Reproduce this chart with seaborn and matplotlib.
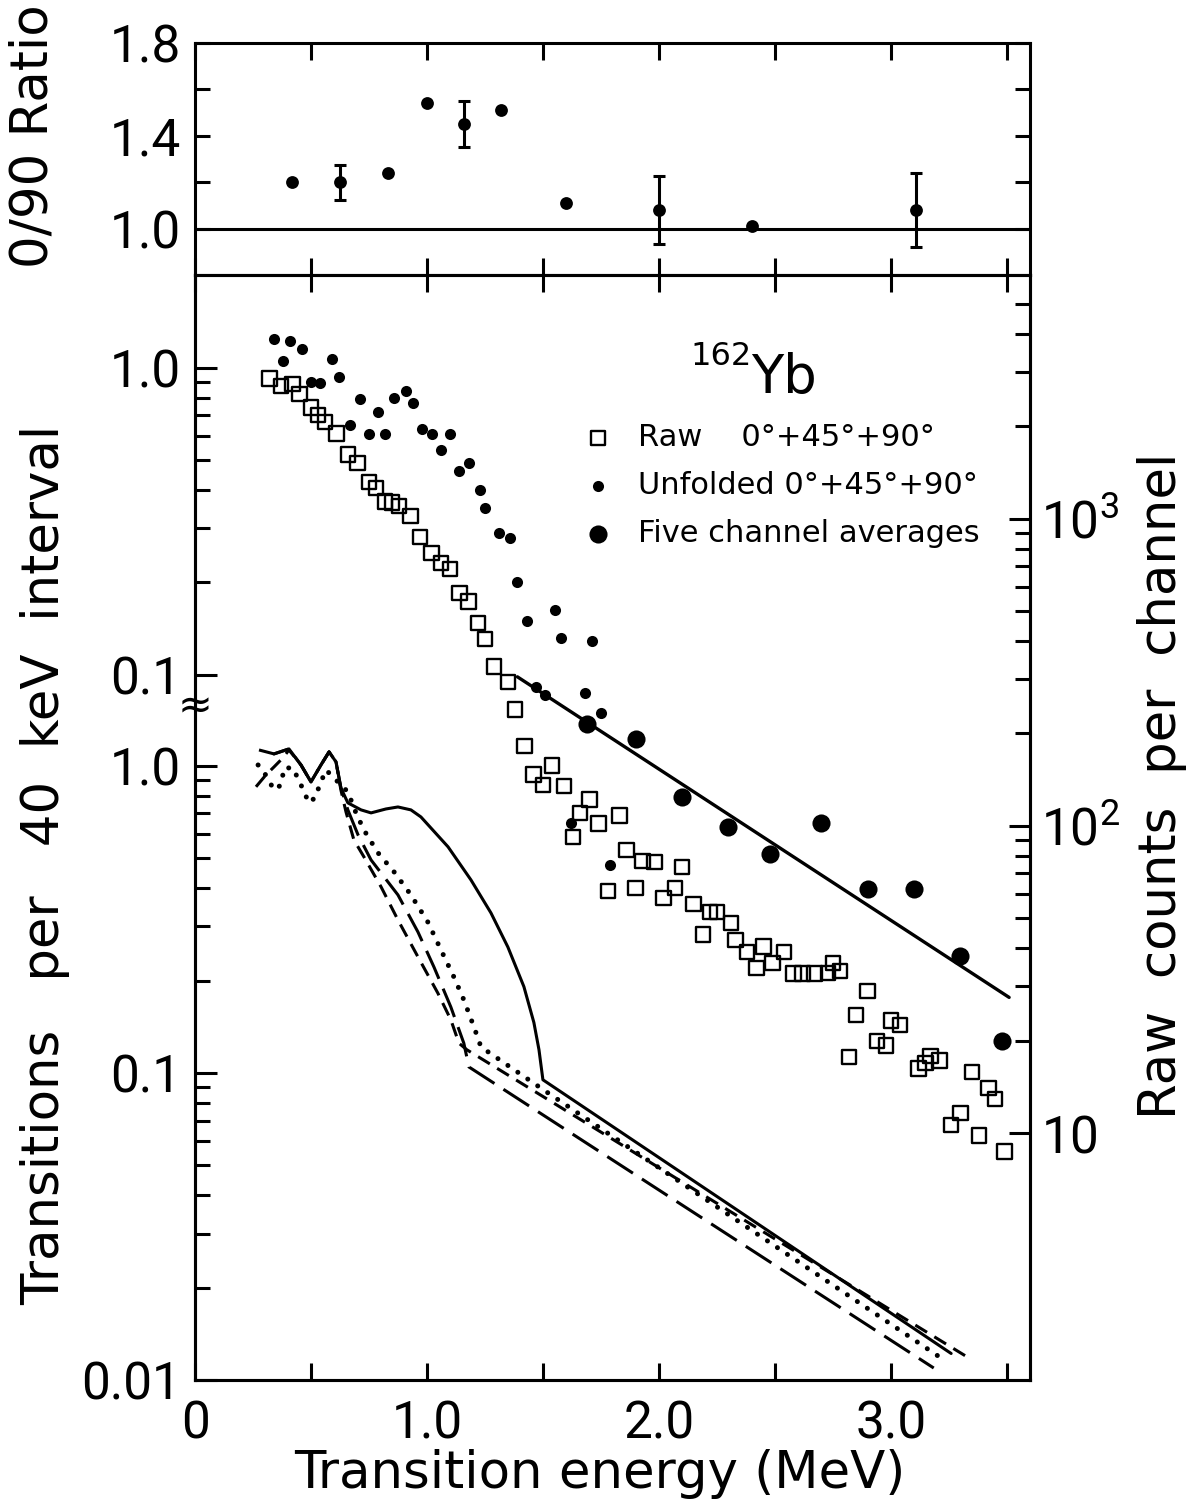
import numpy as np
import matplotlib
matplotlib.use("Agg")
import matplotlib.pyplot as plt
import seaborn as sns
from matplotlib.ticker import NullFormatter
import matplotlib.transforms as mtransforms

# ---------------- data ----------------
# top panel: 0/90 ratio
ratio_E = [0.42, 0.625, 0.83, 1.00, 1.16, 1.32, 1.60, 2.00, 2.40, 3.11]
ratio_val = [1.20, 1.20, 1.24, 1.54, 1.45, 1.51, 1.11, 1.08, 1.01, 1.08]
ratio_err = [0, 0.075, 0, 0, 0.10, 0, 0, 0.145, 0, 0.16]

# raw counts per channel (right axis)
raw_E = [0.32, 0.37, 0.42, 0.45, 0.50, 0.53, 0.56, 0.61, 0.66, 0.70,
         0.75, 0.78, 0.82, 0.85, 0.88, 0.93, 0.97, 1.02, 1.06, 1.10,
         1.14, 1.18, 1.22, 1.25, 1.29, 1.35, 1.38, 1.42, 1.46, 1.50,
         1.54, 1.59, 1.70, 1.66, 1.74, 1.63, 1.83, 1.86, 1.93, 1.98,
         2.10, 1.78, 1.90, 2.02, 2.07, 2.15, 2.22, 2.25, 2.31, 2.19,
         2.33, 2.38, 2.45, 2.49, 2.42, 2.54, 2.58, 2.62, 2.67, 2.73,
         2.75, 2.78, 2.90, 2.85, 2.82, 3.00, 3.04, 2.94, 2.98, 3.17,
         3.21, 3.15, 3.12, 3.35, 3.42, 3.45, 3.30, 3.26, 3.38, 3.49]
raw_counts = [2860, 2710, 2750, 2550, 2300, 2180, 2070, 1900, 1620, 1520,
              1320, 1260, 1140, 1130, 1100, 1020, 874, 775, 719, 687,
              574, 537, 458, 406, 330, 294, 239, 182, 147, 136,
              157, 135, 122, 110, 102, 92, 108, 83.5, 76.9, 76.3,
              73.5, 61.4, 62.8, 58.3, 62.8, 55.7, 52.5, 52.5, 48.3, 44.2,
              42.5, 38.9, 40.4, 35.8, 34.5, 38.9, 33.0, 33.0, 33.0, 33.2,
              35.8, 33.7, 29.0, 24.2, 17.7, 23.2, 22.5, 19.9, 19.3, 17.8,
              17.2, 16.9, 16.2, 15.8, 14.0, 12.9, 11.6, 10.6, 9.8, 8.7]

# unfolded spectrum (upper left scale)
unf_E = [0.34, 0.41, 0.38, 0.46, 0.59, 0.50, 0.54, 0.62, 0.71, 0.79,
         0.86, 0.91, 0.94, 0.67, 0.75, 0.82, 0.98, 1.02, 1.10, 1.06,
         1.14, 1.18, 1.23, 1.25, 1.31, 1.36, 1.39, 1.43, 1.55, 1.58,
         1.71, 1.47, 1.51, 1.68, 1.75, 1.62, 1.79]
unf_val = [1.24, 1.22, 1.05, 1.15, 1.07, 0.90, 0.89, 0.93, 0.79, 0.72,
           0.80, 0.84, 0.77, 0.65, 0.61, 0.61, 0.63, 0.61, 0.61, 0.54,
           0.46, 0.49, 0.40, 0.35, 0.29, 0.28, 0.20, 0.150, 0.163, 0.132,
           0.129, 0.091, 0.086, 0.087, 0.075, 0.033, 0.024]

# five channel averages (upper left scale)
avg_E = [1.69, 1.90, 2.10, 2.30, 2.48, 2.70, 2.90, 3.10, 3.30, 3.48]
avg_val = [0.069, 0.062, 0.040, 0.032, 0.026, 0.033, 0.020, 0.020, 0.0121, 0.0064]

# exponential fit line (upper left scale)
fit_E = [1.39, 3.51]
fit_val = [0.0985, 0.0089]

# calculated spectra (lower left scale)
solid_E = [0.34, 0.405, 0.457, 0.50, 0.543, 0.578, 0.608, 0.629, 0.659, 0.716,
           0.759, 0.823, 0.875, 0.931, 0.974, 1.091, 1.19, 1.276, 1.349, 1.418,
           1.461, 1.483, 1.50, 3.26]
solid_v = [1.094, 1.136, 1.007, 0.887, 1.007, 1.111, 1.030, 0.848, 0.758, 0.719,
           0.703, 0.724, 0.735, 0.719, 0.682, 0.545, 0.425, 0.332, 0.257, 0.191,
           0.146, 0.119, 0.095, 0.0122]

longdash_E = [0.276, 0.341, 0.405, 0.457, 0.50, 0.543, 0.578, 0.608, 0.629, 0.659,
              0.703, 0.759, 0.875, 0.961, 1.03, 1.103, 1.159, 1.181, 3.185]
longdash_v = [1.127, 1.094, 1.136, 1.007, 0.887, 1.007, 1.111, 1.030, 0.848, 0.719,
              0.596, 0.494, 0.380, 0.288, 0.2215, 0.164, 0.125, 0.1046, 0.01094]

shortdash_E = [0.263, 0.306, 0.341, 0.379, 0.405, 0.457, 0.50, 0.543, 0.578, 0.608,
               0.629, 0.651, 0.685, 0.728, 0.802, 0.875, 0.961, 1.047, 1.103, 1.138,
               1.172, 3.336]
shortdash_v = [0.855, 0.935, 0.993, 1.062, 1.127, 1.007, 0.887, 1.007, 1.111, 1.030,
               0.835, 0.708, 0.574, 0.506, 0.404, 0.315, 0.239, 0.182, 0.149, 0.125,
               0.119, 0.0118]

dotted_E = [0.272, 0.297, 0.341, 0.371, 0.384, 0.422, 0.457, 0.491, 0.522, 0.534,
            0.565, 0.616, 0.659, 0.694, 0.728, 0.789, 0.858, 0.931, 1.004, 1.06,
            1.116, 1.159, 1.203, 1.233, 1.491, 3.216]
dotted_v = [1.007, 0.956, 0.835, 0.867, 0.985, 0.985, 0.867, 0.758, 0.793, 0.855,
            0.970, 0.887, 0.823, 0.703, 0.619, 0.521, 0.452, 0.380, 0.310, 0.252,
            0.2055, 0.173, 0.141, 0.1215, 0.0893, 0.0118]

x_ticks = [0, 0.5, 1.0, 1.5, 2.0, 2.5, 3.0, 3.5]
x_ticklabels = ["0", "", "1.0", "", "2.0", "", "3.0", ""]
ratio_ticks = [1.0, 1.2, 1.4, 1.6, 1.8]
ratio_ticklabels = ["1.0", "", "1.4", "", "1.8"]
raw_ticks = [10, 100, 1000]
raw_ticklabels = [r"$\mathregular{10}$", r"$\mathregular{10^2}$", r"$\mathregular{10^3}$"]

# axis scale relations of the broken / twin axes
S_UP = 19.8      # upper-left section 1.0 sits at 19.8 lower-left units
RAW = 156.8      # raw counts per lower-left unit

# ---------------- style ----------------
sns.set_theme(style="white")
plt.rcParams["font.family"] = ["Roboto", "DejaVu Sans"]
plt.rcParams.update({
    "text.color": "black", "axes.labelcolor": "black",
    "xtick.color": "black", "ytick.color": "black",
    "axes.edgecolor": "black", "axes.linewidth": 2.2,
    "mathtext.fontset": "custom", "mathtext.rm": "Roboto",
    "mathtext.it": "Roboto:italic", "mathtext.bf": "Roboto:bold",
})
K = "black"
FS = 37
LBL = dict(fontsize=37, family=["DejaVu Sans"])

fig = plt.figure(figsize=(11.89, 15.08), dpi=100)
L, R = 195 / 1189, 1030 / 1189
ax_top = fig.add_axes([L, 1 - 275 / 1508, R - L, (275 - 43) / 1508])
ax = fig.add_axes([L, 1 - 1380 / 1508, R - L, (1380 - 275) / 1508])

# ---------------- top panel ----------------
ax_top.axhline(1.0, color=K, lw=2.2)
sns.scatterplot(x=ratio_E, y=ratio_val, ax=ax_top, color=K, s=85, linewidth=0, zorder=3)
e_idx = [i for i, e in enumerate(ratio_err) if e > 0]
ax_top.errorbar([ratio_E[i] for i in e_idx], [ratio_val[i] for i in e_idx],
                yerr=[ratio_err[i] for i in e_idx], fmt="none", ecolor=K,
                elinewidth=2.2, capsize=4.5, capthick=2.2)
ax_top.set_xlim(0, 3.6)
ax_top.set_ylim(0.8, 1.8)
ax_top.set_xticks(x_ticks)
ax_top.set_xticklabels([])
ax_top.set_yticks(ratio_ticks, labels=ratio_ticklabels)
ax_top.tick_params(axis="x", which="both", direction="in", top=True, bottom=True,
                   length=12, width=2.2)
ax_top.tick_params(axis="y", which="both", direction="in", left=True, right=True,
                   length=11, width=2.2, labelsize=FS, pad=10)
ax_top.set_ylabel("0/90 Ratio", **LBL)
ax_top.yaxis.set_label_coords(-0.163, 0.60)

# ---------------- main panel ----------------
ax.set_yscale("log")
ax.set_xlim(0, 3.6)
ax.set_ylim(0.01, 39.7)

line_kw = dict(ax=ax, color=K, sort=False, estimator=None, lw=2.2)
sns.lineplot(x=solid_E, y=solid_v, linestyle="-", **line_kw)
sns.lineplot(x=longdash_E, y=longdash_v, linestyle=(0, (10, 3.5)), **line_kw)
sns.lineplot(x=shortdash_E, y=shortdash_v, linestyle=(0, (4.5, 2.8)), **line_kw)
sns.lineplot(x=dotted_E, y=dotted_v, ax=ax, color=K, sort=False, estimator=None,
             lw=3.6, linestyle=(0, (0.01, 2.4)), dash_capstyle="round")

sns.lineplot(x=fit_E, y=[v * S_UP for v in fit_val], ax=ax, color=K, lw=2.4,
             sort=False, estimator=None)
sns.scatterplot(x=unf_E, y=[v * S_UP for v in unf_val], ax=ax, color=K, s=64,
                linewidth=0, zorder=4, label="Unfolded 0°+45°+90°", legend=False)
sns.scatterplot(x=avg_E, y=[v * S_UP for v in avg_val], ax=ax, color=K, s=170,
                linewidth=0, zorder=4, label="Five channel averages", legend=False)

ax2 = ax.twinx()
ax2.set_yscale("log")
ax2.set_ylim(0.01 * RAW, 39.7 * RAW)
sns.scatterplot(x=raw_E, y=raw_counts, ax=ax2, marker="s", s=110, color=K,
                facecolor="none", edgecolor=K, linewidth=1.7, zorder=3,
                label="Raw    0°+45°+90°", legend=False)
ax2.set_xlim(0, 3.6)

# x ticks
ax.set_xticks(x_ticks, labels=x_ticklabels)
ax.tick_params(axis="x", which="both", direction="in", top=True, bottom=True,
               length=12, width=2.2, labelsize=FS, pad=14)

# left ticks (broken scale)
ax.set_yticks([0.01, 0.1, 1.0, 0.1 * S_UP, 1.0 * S_UP],
              labels=["0.01", "0.1", "1.0", "0.1", "1.0"])
minor_left = ([k * 0.01 for k in range(2, 10)] + [k * 0.1 for k in range(2, 10)]
              + [k * 0.1 * S_UP for k in range(2, 10)])
ax.set_yticks(minor_left, minor=True)
ax.yaxis.set_minor_formatter(NullFormatter())
ax.tick_params(axis="y", which="major", direction="in", left=True, right=False,
               length=16, width=2.2, labelsize=FS, pad=10)
ax.tick_params(axis="y", which="minor", direction="in", left=True, right=False,
               length=11, width=2.2)

# right ticks (raw counts)
ax2.set_yticks(raw_ticks, labels=raw_ticklabels)
minor_right = ([k * 10 for k in range(2, 10)] + [k * 100 for k in range(2, 10)]
               + [k * 1000 for k in range(2, 6)])
ax2.set_yticks(minor_right, minor=True)
ax2.yaxis.set_minor_formatter(NullFormatter())
ax2.tick_params(axis="y", which="major", direction="in", right=True, left=False,
                length=15, width=2.2, labelsize=FS, pad=8)
ax2.tick_params(axis="y", which="minor", direction="in", right=True, left=False,
                length=11, width=2.2)
for a in (ax, ax2, ax_top):
    for sp in a.spines.values():
        sp.set_linewidth(2.2)
        sp.set_color(K)
# narrow digits for the tick numbers
for a in (ax, ax_top):
    for t in a.get_xticklabels() + a.get_yticklabels():
        t.set_fontfamily(["Roboto", "DejaVu Sans"])

# axis break marker on the left spine
brk = mtransforms.blended_transform_factory(ax.transAxes, ax.transData)
ax.text(0, 1.557, "≈", transform=brk, ha="center", va="center", fontsize=30,
        family="DejaVu Sans", clip_on=False)

# labels
ax.set_ylabel("Transitions   per   40  keV  interval", **LBL)
ax.yaxis.set_label_coords(-0.15, 0.466)
ax2.set_ylabel("Raw  counts  per  channel", **LBL)
ax2.yaxis.set_label_coords(1.128, 0.538)
ax.set_xlabel("Transition energy (MeV)", **LBL)
ax.xaxis.set_label_coords(0.485, -0.062)

# nucleus label
ax.text(0.593, 0.9186, "162", transform=ax.transAxes, fontsize=23, va="baseline",
        family=["DejaVu Sans"])
ax.text(0.666, 0.893, "Yb", transform=ax.transAxes, fontsize=38, va="baseline",
        family=["DejaVu Sans"])

# legend
h2, l2 = ax2.get_legend_handles_labels()
h1, l1 = ax.get_legend_handles_labels()
leg = ax2.legend(h2 + h1, l2 + l1, loc="upper left", bbox_to_anchor=(0.468, 0.866),
                 frameon=False, handlelength=0.8, handletextpad=0.9,
                 labelspacing=0.62, borderpad=0, borderaxespad=0,
                 prop={"family": "DejaVu Sans", "size": 22})

fig.savefig("out.png", dpi=100)
